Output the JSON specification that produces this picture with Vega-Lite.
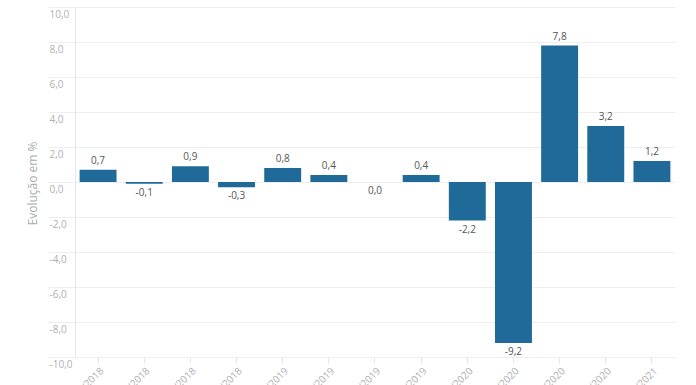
{
  "$schema": "https://vega.github.io/schema/vega-lite/v6.json",
  "width": 600,
  "height": 350,
  "autosize": {"type": "none"},
  "padding": {"left": 75, "top": 7, "right": 21, "bottom": 28},
  "background": "white",
  "config": {
    "locale": {"number": {"decimal": ",", "thousands": ".", "grouping": [3], "currency": ["R$", ""], "minus": "-"}},
    "view": {"stroke": null},
    "font": "Open Sans"
  },
  "data": {
    "values": [
      {"periodo": "1º trim/2018", "valor": 0.7},
      {"periodo": "2º trim/2018", "valor": -0.1},
      {"periodo": "3º trim/2018", "valor": 0.9},
      {"periodo": "4º trim/2018", "valor": -0.3},
      {"periodo": "1º trim/2019", "valor": 0.8},
      {"periodo": "2º trim/2019", "valor": 0.4},
      {"periodo": "3º trim/2019", "valor": 0.0},
      {"periodo": "4º trim/2019", "valor": 0.4},
      {"periodo": "1º trim/2020", "valor": -2.2},
      {"periodo": "2º trim/2020", "valor": -9.2},
      {"periodo": "3º trim/2020", "valor": 7.8},
      {"periodo": "4º trim/2020", "valor": 3.2},
      {"periodo": "1º trim/2021", "valor": 1.2}
    ]
  },
  "encoding": {
    "x": {
      "field": "periodo",
      "type": "nominal",
      "sort": null,
      "scale": {"paddingInner": 0.2, "paddingOuter": 0.1},
      "axis": {
        "title": null,
        "domain": false,
        "grid": false,
        "ticks": true,
        "tickSize": 6,
        "tickColor": "#e6e6e6",
        "labelAngle": -45,
        "labelAlign": "right",
        "labelBaseline": "middle",
        "labelPadding": 6,
        "labelOffset": 4,
        "labelFontSize": 10,
        "labelColor": "#b0b0b0"
      }
    },
    "y": {
      "field": "valor",
      "type": "quantitative",
      "scale": {"domain": [-10, 10], "nice": false, "zero": true},
      "axis": {
        "title": "Evolução em %",
        "titleFontSize": 12,
        "titleFontWeight": "normal",
        "titleColor": "#aaaaaa",
        "titleAngle": -90,
        "titleX": -43,
        "titleY": 176,
        "titleAlign": "center",
        "titleBaseline": "middle",
        "values": [-10, -8, -6, -4, -2, 0, 2, 4, 6, 8, 10],
        "format": ".1f",
        "domain": true,
        "domainColor": "#e6e6e6",
        "grid": true,
        "gridColor": "#eeeeee",
        "ticks": true,
        "tickSize": 27,
        "tickColor": "#eeeeee",
        "labelAlign": "left",
        "labelBaseline": "top",
        "labelPadding": -1,
        "labelOffset": 2,
        "labelFontSize": 10,
        "labelColor": "#b0b0b0"
      }
    }
  },
  "layer": [
    {
      "mark": {"type": "bar", "color": "#1f6a98"}
    },
    {
      "transform": [{"filter": "datum.valor > 0"}],
      "mark": {"type": "text", "dy": -9, "baseline": "middle", "fontSize": 10, "color": "#555555"},
      "encoding": {"text": {"field": "valor", "type": "quantitative", "format": ".1f"}}
    },
    {
      "transform": [{"filter": "datum.valor <= 0"}],
      "mark": {"type": "text", "dy": 9, "baseline": "middle", "fontSize": 10, "color": "#555555"},
      "encoding": {"text": {"field": "valor", "type": "quantitative", "format": ".1f"}}
    }
  ]
}
